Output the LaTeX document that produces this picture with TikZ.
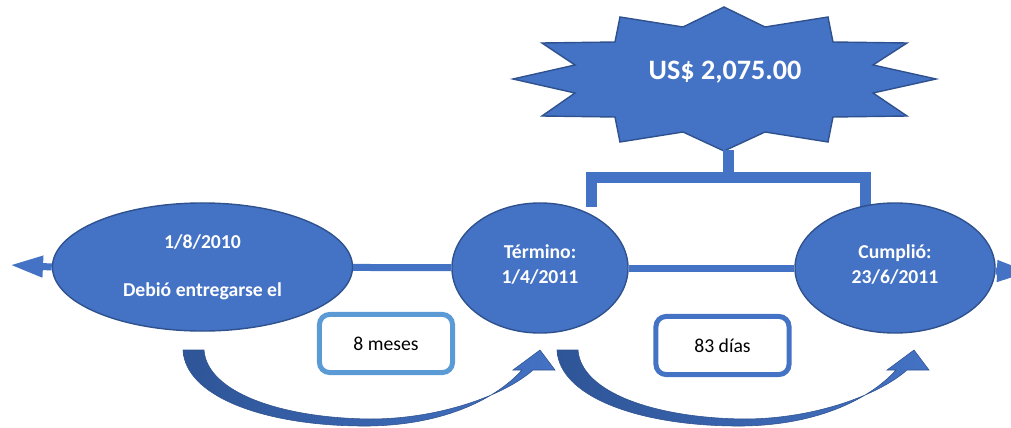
\documentclass[tikz,border=0pt]{standalone}
\usepackage{fontspec}
\setmainfont{Carlito}
\usetikzlibrary{arrows.meta, shapes, positioning}
\definecolor{accent}{HTML}{4472C4}
\definecolor{accentdark}{HTML}{2F528F}
\definecolor{accentdeep}{HTML}{2E5597}
\definecolor{lightaccent}{HTML}{5B9BD5}

\begin{document}
\begin{tikzpicture}[x=0.025cm, y=-0.025cm,
        date/.style={ellipse, fill=accent, draw=accentdark, line width=1pt, text=white,
            font=\fontsize{14}{17.8}\selectfont\bfseries, align=center, inner sep=0pt},
        span/.style={draw, line width=0.125cm, rounded corners=0.25cm, fill=white,
            minimum width=3.325cm, minimum height=1.45cm, font=\fontsize{14}{17}\selectfont},
        link/.style={accent, line width=0.175cm},
        bracket/.style={accent, line width=0.275cm},
        curvearrow/.style={left color=accentdeep, right color=accent, draw=accentdark, line width=0.4pt}]
            \useasboundingbox (0,0) rectangle (1011,427);

            \filldraw[fill=accent, draw=accentdark, line width=1pt]
                (724,7) -- (765,27) -- (828,17) -- (833,42) -- (907,43) -- (873,65)
                -- (936,79) -- (873,93) -- (907,116) -- (833,117) -- (828,142) -- (765,132)
                -- (724,151) -- (683,132) -- (620,142) -- (615,117) -- (542,116) -- (575,93)
                -- (513,79) -- (575,65) -- (542,43) -- (615,42) -- (620,17) -- (683,27) -- cycle;
            \node[text=white, font=\fontsize{20}{24}\selectfont\bfseries] (amount) at (725,72) {US\$ 2,075.00};

            \coordinate (burstfoot) at (728,150);
            \coordinate (bar) at (728,177.5);
            \coordinate (legL) at (591.5,207);
            \coordinate (legR) at (865,207);
            \draw[bracket] (burstfoot) -- (bar);
            \draw[bracket] (legL) |- (bar) -| (legR);

            \node[date, minimum width=7.5cm, minimum height=3.2cm] (due) at (202.5,267)
                {1/8/2010\\[16pt]Debió entregarse el};
            \node[date, minimum width=4.4cm, minimum height=3.25cm, text depth=6pt] (term) at (540,268)
                {Término:\\1/4/2011};
            \node[date, minimum width=5cm, minimum height=3.25cm, text depth=6pt] (fin) at (895,268)
                {Cumplió:\\23/6/2011};

            \coordinate (pastL) at (10,265);
            \coordinate (pastR) at (1030,272);
            \draw[link] (due) -- (term);
            \draw[link] (term) -- (fin);
            \draw[link, -{Triangle[length=0.825cm, width=0.5cm]}] (due.west) -- (pastL);
            \draw[link, -{Triangle[length=0.825cm, width=0.5cm]}] (fin) -- (pastR);

            \foreach \dx in {0,374} {
                \shadedraw[curvearrow, xshift=\dx*0.025cm]
                    (183,350) -- (204,350)
                    .. controls (207,392) and (280,418) .. (370,419)
                    .. controls (440,419) and (505,395) .. (533,370)
                    -- (555,370) -- (540,350) -- (513,370) -- (522,370)
                    .. controls (495,400) and (440,427) .. (360,426)
                    .. controls (260,425) and (185,395) .. (183,350) -- cycle;
            }

            \node[span, draw=lightaccent] (months) at (386,343.5) {8 meses};
            \node[span, draw=accent] (days) at (722.5,345.5) {83 días};
        \end{tikzpicture}
\end{document}
